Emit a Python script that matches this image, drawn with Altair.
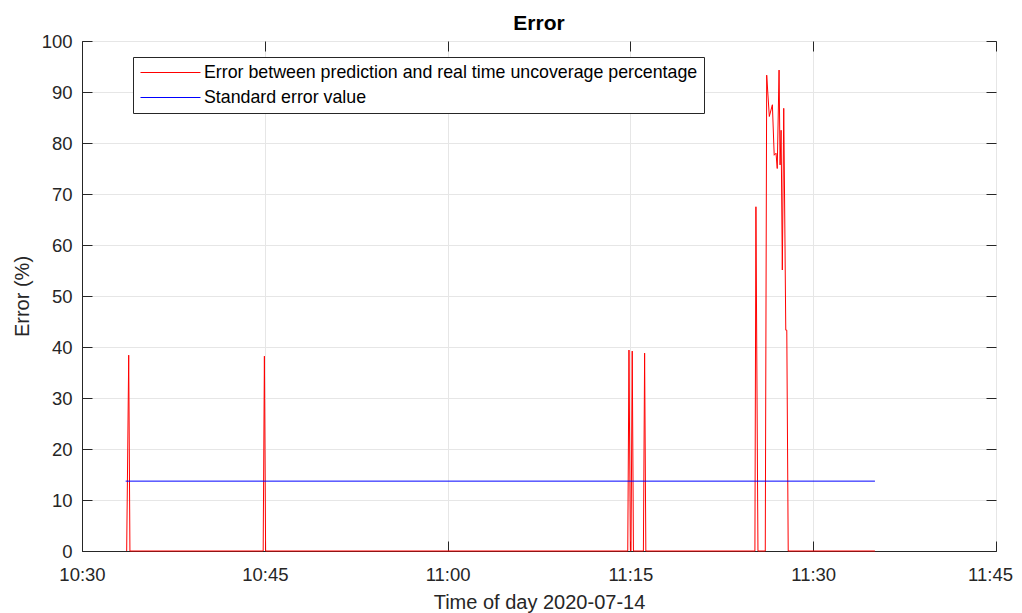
import altair as alt
import pandas as pd

DATE = "2020-07-14"
series_names = [
    "Error between prediction and real time uncoverage percentage",
    "Standard error value",
]
series_colors = ["#ff0000", "#0000ff"]

red_times = ["10:33:40", "10:33:50", "10:33:56", "10:44:52", "10:44:58", "10:45:04",
             "11:14:47", "11:14:53", "11:15:00", "11:15:03", "11:15:09", "11:15:15",
             "11:16:04", "11:16:10", "11:16:16", "11:25:13", "11:25:18", "11:25:28",
             "11:26:04", "11:26:11", "11:26:24", "11:26:39", "11:26:48", "11:26:57",
             "11:27:03", "11:27:12", "11:27:17", "11:27:22", "11:27:28", "11:27:35",
             "11:27:45", "11:27:50", "11:27:57", "11:35:04"]
red_values = [0, 38.4, 0, 0, 38.2, 0,
              0, 39.4, 0, 0, 39.2, 0,
              0, 38.8, 0, 0, 67.5, 0,
              0, 93.3, 85.2, 87.5, 77.6, 78.0,
              75.0, 94.3, 75.7, 82.5, 55.1, 86.8,
              43.3, 43.3, 0, 0]

blue_times = ["10:33:35", "11:35:04"]
blue_values = [13.7, 13.7]

x_tick_labels = [(10, 30), (10, 45), (11, 0), (11, 15), (11, 30), (11, 45)]
y_tick_values = [0, 10, 20, 30, 40, 50, 60, 70, 80, 90, 100]

rows = []
for t, v in zip(red_times, red_values):
    rows.append({"time": f"{DATE}T{t}", "value": v, "series": series_names[0]})
for t, v in zip(blue_times, blue_values):
    rows.append({"time": f"{DATE}T{t}", "value": v, "series": series_names[1]})
df = pd.DataFrame(rows)
df_blue = df[df["series"] == series_names[1]]

def dt(h, m):
    return alt.DateTime(year=2020, month=7, date=14, hours=h, minutes=m)

xticks = [dt(h, m) for h, m in x_tick_labels]
xscale = alt.Scale(domain=[dt(10, 30), dt(11, 45)])
yscale = alt.Scale(domain=[0, 100], nice=False)

FONT = "Liberation Sans"
AX = "#262626"
GRID = "#e6e6e6"

x_main = alt.Axis(orient="bottom", values=xticks, format="%H:%M", labelFont=FONT,
                  labelFontSize=18.5, labelColor=AX, labelPadding=14, ticks=False,
                  tickSize=0, domain=True, domainColor=AX, grid=True, gridColor=GRID,
                  labelFlush=False, labelOverlap=False,
                  labelOffset={"condition": {"test": "datum.index == 1", "value": -6},
                               "value": 0},
                  title="Time of day 2020-07-14", titleFont=FONT, titleFontSize=20,
                  titleFontWeight="normal", titleColor=AX, titlePadding=9)
y_main = alt.Axis(orient="left", values=y_tick_values, labelFont=FONT, labelFontSize=18.5,
                  labelColor=AX, labelPadding=10, ticks=False, tickSize=0, domain=True,
                  domainColor=AX, grid=True, gridColor=GRID, labelFlush=False,
                  title="Error (%)", titleFont=FONT, titleFontSize=20,
                  titleFontWeight="normal", titleColor=AX, titlePadding=9)

def tick_axis(orient, values):
    return alt.Axis(orient=orient, values=values, offset=-10, tickSize=10, tickColor=AX,
                    tickWidth=1, ticks=True, labels=False, domain=False, grid=False,
                    title=None, minExtent=0, maxExtent=10)

legend = alt.Legend(orient="none", legendX=51, legendY=16, title=None,
                    strokeColor=AX, fillColor="white", padding=6, cornerRadius=0,
                    labelFont=FONT, labelFontSize=17.8, labelColor="black", labelLimit=1000,
                    symbolType="M-3.333,0H3.333", symbolSize=324, symbolStrokeWidth=1,
                    symbolOffset=22, labelOffset=24, rowPadding=6)

lines = alt.Chart(df).mark_line(strokeWidth=1).encode(
    x=alt.X("time:T", scale=xscale, axis=x_main),
    y=alt.Y("value:Q", scale=yscale, axis=y_main),
    color=alt.Color("series:N", scale=alt.Scale(domain=series_names, range=series_colors),
                    legend=legend),
)

ticks_bl = alt.Chart(df_blue).mark_point(opacity=0).encode(
    x=alt.X("time:T", scale=xscale, axis=tick_axis("bottom", xticks)),
    y=alt.Y("value:Q", scale=yscale, axis=tick_axis("left", y_tick_values)),
)
ticks_tr = alt.Chart(df_blue).mark_point(opacity=0).encode(
    x=alt.X("time:T", scale=xscale, axis=tick_axis("top", xticks)),
    y=alt.Y("value:Q", scale=yscale, axis=tick_axis("right", y_tick_values)),
)

chart = alt.layer(lines, ticks_bl, ticks_tr).resolve_axis(
    x="independent", y="independent"
).properties(
    width=914, height=510,
    padding={"left": 74, "top": 33, "right": 18, "bottom": 64},
    autosize=alt.AutoSizeParams(type="none"),
    title=alt.TitleParams("Error", font=FONT, fontSize=21, fontWeight="bold",
                          color="black", anchor="middle", offset=1, dy=20,
                          baseline="alphabetic", frame="group"),
    background="white",
).configure_view(stroke=AX, strokeWidth=1)

chart.save("out.html", embed_options={"renderer": "svg", "actions": False})
